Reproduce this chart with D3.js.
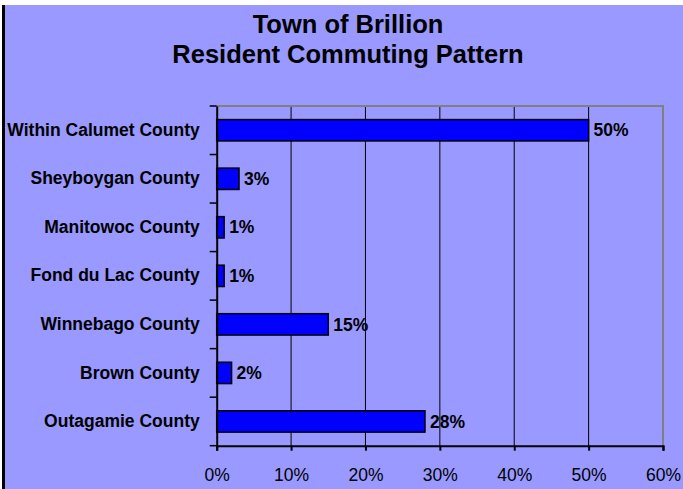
<!DOCTYPE html>
<html>
<head>
<meta charset="utf-8">
<script src="https://cdn.jsdelivr.net/npm/d3@7"></script>
<style>
  body { margin: 0; background: #fff; }
  svg { display: block; font-family: 'Liberation Sans', Arial, sans-serif; }
</style>
</head>
<body>
<div class="container"></div>
<script>
// chart data
var categories = ["Within Calumet County", "Sheyboygan County", "Manitowoc County",
                  "Fond du Lac County", "Winnebago County", "Brown County", "Outagamie County"];
var shares = [50, 3, 1, 1, 15, 2, 28];
var tickValues = [0, 10, 20, 30, 40, 50, 60];
var titleLines = ["Town of Brillion", "Resident Commuting Pattern"];

var width = 683, height = 489;
var margin = {top: 106, right: 20, bottom: 43.3, left: 216.7};
var labelSize = "17.5px";

var svg = d3.select(".container").append("svg")
    .attr("width", width)
    .attr("height", height);

// chart area background + left border
svg.append("rect")
    .attr("x", 3).attr("y", 5)
    .attr("width", width - 3).attr("height", height - 5)
    .attr("fill", "#9999ff");
svg.append("line")
    .attr("x1", 3.5).attr("x2", 3.5)
    .attr("y1", 5).attr("y2", height)
    .attr("stroke", "#000").attr("stroke-width", 3);

// title
svg.append("g")
    .attr("text-anchor", "middle")
    .style("font-weight", "bold")
    .style("font-size", "25.5px")
  .selectAll("text")
  .data(titleLines)
  .join("text")
    .attr("x", 348)
    .attr("y", (d, i) => 33 + i * 30)
    .text(d => d);

var x = d3.scaleLinear()
    .domain([0, 60])
    .range([margin.left, 663]);

var y = d3.scaleBand()
    .domain(categories)
    .range([margin.top, height - margin.bottom])
    .paddingInner(0.56)
    .paddingOuter(0.28);

// gridlines
svg.append("g")
  .selectAll("line")
  .data(tickValues.slice(1, -1))
  .join("line")
    .attr("x1", d => x(d)).attr("x2", d => x(d))
    .attr("y1", margin.top).attr("y2", height - margin.bottom)
    .attr("stroke", "#000").attr("stroke-width", 1);

// top and right plot border
svg.append("path")
    .attr("d", `M${x(0)},${margin.top}H${x(60)}V${height - margin.bottom}`)
    .attr("fill", "none")
    .attr("stroke", "#808080")
    .attr("stroke-width", 2);

// bars
svg.append("g")
  .selectAll("rect")
  .data(shares)
  .join("rect")
    .attr("x", x(0))
    .attr("y", (d, i) => y(categories[i]))
    .attr("width", d => x(d) - x(0))
    .attr("height", y.bandwidth())
    .attr("fill", "#0000ff")
    .attr("stroke", "#000")
    .attr("stroke-width", 1.5);

// value labels
svg.append("g")
    .style("font-weight", "bold")
    .style("font-size", labelSize)
  .selectAll("text")
  .data(shares)
  .join("text")
    .attr("x", d => x(d) + 5)
    .attr("y", (d, i) => y(categories[i]) + y.bandwidth() / 2)
    .attr("dy", "0.35em")
    .text(d => d + "%");

// x axis
svg.append("g")
    .attr("transform", `translate(0,${height - margin.bottom})`)
    .call(d3.axisBottom(x).tickValues(tickValues).tickFormat(d => d + "%").tickSize(5).tickPadding(18))
    .call(g => g.selectAll("line, path").attr("stroke", "#000").attr("stroke-width", 2))
    .call(g => g.selectAll("text").attr("fill", "#000").style("font-size", labelSize).style("font-family", "'Liberation Sans', Arial, sans-serif"));

// y axis: labels centred on bands, ticks on band boundaries
svg.append("g")
    .attr("transform", `translate(${x(0)},0)`)
    .call(d3.axisLeft(y).tickSize(0).tickPadding(17))
    .call(g => g.select(".domain").attr("stroke", "#000").attr("stroke-width", 2))
    .call(g => g.selectAll("text").attr("fill", "#000").style("font-weight", "bold")
        .style("font-size", labelSize).style("font-family", "'Liberation Sans', Arial, sans-serif"));

svg.append("g")
  .selectAll("line")
  .data(d3.range(categories.length + 1))
  .join("line")
    .attr("x1", x(0) - 7).attr("x2", x(0))
    .attr("y1", i => margin.top + i * y.step())
    .attr("y2", i => margin.top + i * y.step())
    .attr("stroke", "#000").attr("stroke-width", 1.5);
</script>
</body>
</html>
